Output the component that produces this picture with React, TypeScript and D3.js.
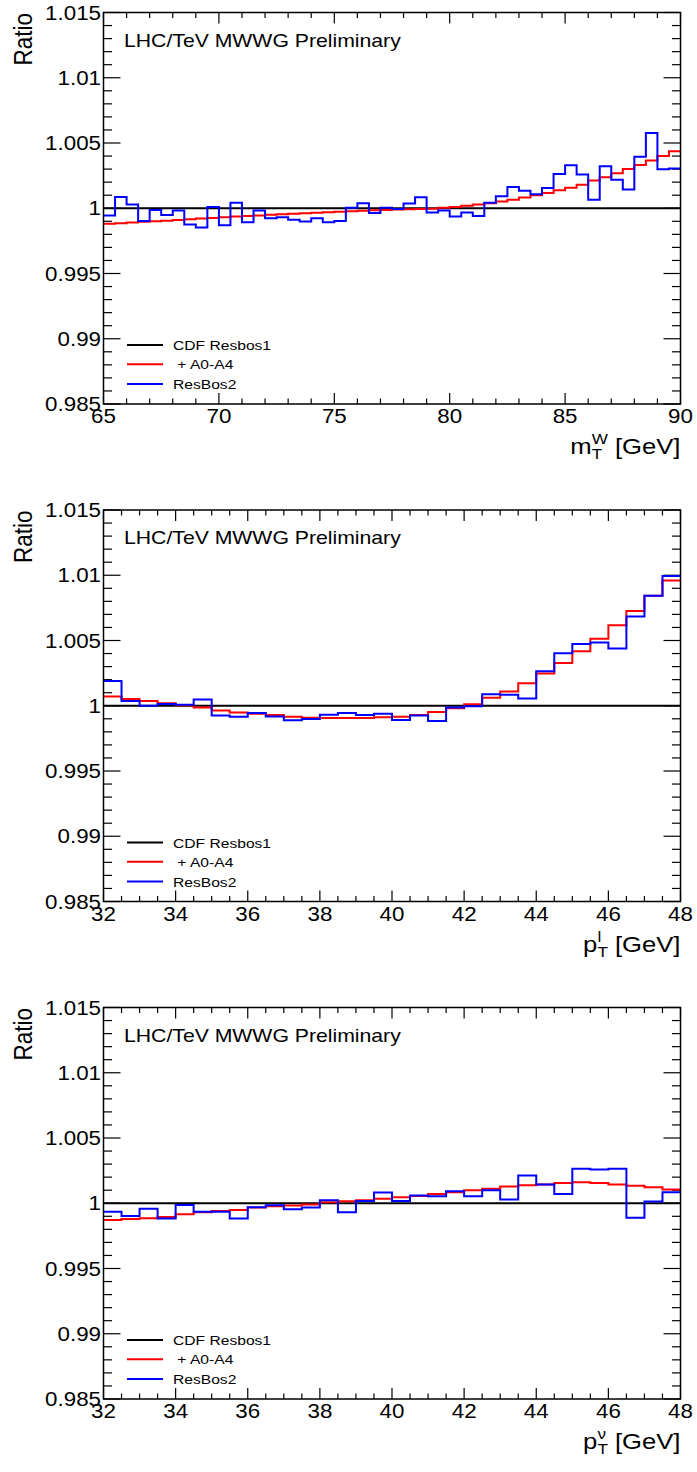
import React from "react";
import * as d3 from "d3";

// ---------- data ----------
const yTickValues = [0.985, 0.99, 0.995, 1, 1.005, 1.01, 1.015];
const yTickLabels = ["0.985", "0.99", "0.995", "1", "1.005", "1.01", "1.015"];

const mtRange = [65, 90];
const mtTicks = [65, 70, 75, 80, 85, 90];
const ptRange = [32, 48];
const ptTicks = [32, 34, 36, 38, 40, 42, 44, 46, 48];

const legendLabels = ["CDF Resbos1", "\u00A0+ A0-A4", "ResBos2"];
const plotLabel = "LHC/TeV MWWG Preliminary";
const yTitle = "Ratio";

// Panel 1: m_T^W, 50 bins of 0.5 GeV
const mtRed = [
  0.99882, 0.99886, 0.9989, 0.99896, 0.999, 0.99905, 0.9991, 0.99916, 0.99921, 0.99926,
  0.99931, 0.99936, 0.9994, 0.99945, 0.9995, 0.99954, 0.99958, 0.99962, 0.99966, 0.9997,
  0.99974, 0.99977, 0.9998, 0.99984, 0.99987, 0.9999, 0.99992, 0.99995, 0.99997, 1.00003,
  1.0001, 1.0002, 1.00028, 1.00038, 1.00051, 1.00066, 1.00082, 1.001, 1.00117, 1.00138,
  1.00158, 1.00181, 1.00212, 1.00237, 1.00268, 1.00301, 1.00332, 1.00365, 1.004, 1.00436,
];
const mtBlue = [
  0.99944, 1.00087, 1.00028, 0.99903, 0.99987, 0.99949, 0.99982, 0.99875, 0.99852, 1.0001,
  0.9987, 1.00043, 0.99893, 0.99982, 0.99923, 0.99931, 0.99911, 0.99898, 0.99923, 0.99893,
  0.99903, 1.00003, 1.00038, 0.99964, 1.00003, 0.99995, 1.00036, 1.00084, 0.99967, 0.99982,
  0.99936, 0.99967, 0.99941, 1.00043, 1.00092, 1.00163, 1.00135, 1.00107, 1.00156, 1.00263,
  1.00329, 1.00258, 1.00066, 1.00321, 1.00219, 1.00143, 1.00395, 1.00577, 1.00298, 1.00304,
];

// Panel 2: p_T^l, 32 bins of 0.5 GeV
const ptlRed = [
  1.0007, 1.00051, 1.00036, 1.0002, 1.00003, 0.99987, 0.99964, 0.99949, 0.99939, 0.99929,
  0.99916, 0.99908, 0.99906, 0.99906, 0.99906, 0.99911, 0.99916, 0.99929, 0.99952, 0.9998,
  1.00012, 1.00061, 1.0011, 1.00173, 1.00247, 1.00327, 1.00418, 1.00513, 1.00617, 1.00727,
  1.00842, 1.00959,
];
const ptlBlue = [
  1.00189, 1.00036, 1.0, 1.00013, 1.00008, 1.00048, 0.99926, 0.99916, 0.99944, 0.99918,
  0.99888, 0.99898, 0.99931, 0.99944, 0.99929, 0.99939, 0.9989, 0.99926, 0.99883, 0.99987,
  0.99997, 1.00089, 1.00084, 1.00056, 1.00265, 1.00403, 1.00474, 1.00485, 1.00439, 1.00684,
  1.00842, 1.00995,
];

// Panel 3: p_T^nu, 32 bins of 0.5 GeV
const ptnRed = [
  0.99872, 0.9988, 0.99885, 0.99895, 0.99916, 0.99931, 0.99941, 0.99949, 0.99967, 0.99977,
  0.99982, 0.9999, 1.00008, 1.00015, 1.00023, 1.00035, 1.00046, 1.00056, 1.00071, 1.00084,
  1.001, 1.00112, 1.00128, 1.00138, 1.00143, 1.00156, 1.00161, 1.00156, 1.00143, 1.00135,
  1.00122, 1.00105,
];
const ptnBlue = [
  0.99934, 0.99903, 0.99957, 0.99883, 0.99987, 0.99934, 0.99934, 0.99883, 0.99969, 0.99985,
  0.99954, 0.99967, 1.00023, 0.99931, 1.00018, 1.00083, 1.00018, 1.00059, 1.00054, 1.00092,
  1.00054, 1.001, 1.00028, 1.00212, 1.00143, 1.00071, 1.00265, 1.00258, 1.00265, 0.99888,
  1.00013, 1.00084,
];

// ---------- layout ----------
const W = 697;
const H = 1472;
const S = 1.14; // horizontal glyph stretch of the reference
const FONT = "'Liberation Sans', Arial, Helvetica, sans-serif";
const LEFT = 103.5;
const RIGHT = 680.5;
const TOP0 = 12.5;
const PH = 391.5;
const STEP = 497.5;

type PanelProps = {
  index: number;
  range: number[];
  ticks: number[];
  minorStep: number;
  red: number[];
  blue: number[];
  base: string;
  sup: string;
  supW: number; // em widths
  subW: number;
};

function Txt(props: {
  x: number;
  y: number;
  size: number;
  anchor?: string;
  rotate?: boolean;
  children: React.ReactNode;
}) {
  const { x, y, size, anchor = "start", rotate = false, children } = props;
  return (
    <text
      transform={`translate(${x},${y}) scale(${S},1)${rotate ? " rotate(-90)" : ""}`}
      fontFamily={FONT}
      fontSize={size}
      textAnchor={anchor}
      fill="#000"
    >
      {children}
    </text>
  );
}

function Panel(p: PanelProps) {
  const top = TOP0 + p.index * STEP;
  const bottom = top + PH;
  const x = d3.scaleLinear().domain(p.range).range([LEFT, RIGHT]);
  const y = d3.scaleLinear().domain([0.985, 1.015]).range([bottom, top]);

  const n = p.red.length;
  const bw = (p.range[1] - p.range[0]) / n;
  const stepPts = (vals: number[]) => {
    const pts: [number, number][] = vals.map((v, i) => [p.range[0] + i * bw, v]);
    pts.push([p.range[1], vals[vals.length - 1]]);
    return pts;
  };
  const line = d3
    .line<[number, number]>()
    .x((d) => x(d[0]))
    .y((d) => y(d[1]))
    .curve(d3.curveStepAfter);

  const xMinor = d3.range(p.range[0], p.range[1] + 1e-9, p.minorStep);
  const yMinor = d3.range(0.985, 1.015 + 1e-9, 0.001);

  const legY = [top + 332.5, top + 351.8, top + 371.5];
  const legColors = ["#000", "#ff0000", "#0000ff"];

  const titleY = bottom + 50;

  return (
    <g>
      {/* ticks */}
      {xMinor.map((t, i) => {
        const isMajor = p.ticks.some((m) => Math.abs(m - t) < 1e-6);
        const len = isMajor ? 11 : 5.5;
        return (
          <g key={"xt" + i} stroke="#000" strokeWidth={1.2}>
            <line x1={x(t)} x2={x(t)} y1={bottom} y2={bottom - len} />
            <line x1={x(t)} x2={x(t)} y1={top} y2={top + len} />
          </g>
        );
      })}
      {yMinor.map((t, i) => {
        const isMajor = yTickValues.some((m) => Math.abs(m - t) < 1e-7);
        const len = isMajor ? 17 : 8.5;
        return (
          <g key={"yt" + i} stroke="#000" strokeWidth={1.2}>
            <line x1={LEFT} x2={LEFT + len} y1={y(t)} y2={y(t)} />
            <line x1={RIGHT} x2={RIGHT - len} y1={y(t)} y2={y(t)} />
          </g>
        );
      })}

      {/* reference line (CDF Resbos1) */}
      <line x1={LEFT} x2={RIGHT} y1={y(1)} y2={y(1)} stroke="#000" strokeWidth={2} />
      <path d={line(stepPts(p.red)) || ""} fill="none" stroke="#ff0000" strokeWidth={2} />
      <path d={line(stepPts(p.blue)) || ""} fill="none" stroke="#0000ff" strokeWidth={2} />

      {/* frame */}
      <rect x={LEFT} y={top} width={RIGHT - LEFT} height={PH} fill="none" stroke="#000" strokeWidth={1.5} />

      {/* tick labels */}
      {yTickValues.map((t, i) => (
        <Txt key={"yl" + i} x={101} y={y(t) + 7} size={19.6} anchor="end">
          {yTickLabels[i]}
        </Txt>
      ))}
      {p.ticks.map((t, i) => (
        <Txt key={"xl" + i} x={x(t)} y={bottom + 19} size={19.6} anchor="middle">
          {String(t)}
        </Txt>
      ))}

      {/* y title */}
      <Txt x={32} y={top + 0.5} size={22.5} anchor="end" rotate>
        {yTitle}
      </Txt>

      {/* x title */}
      <text
        transform={`translate(${RIGHT},${titleY}) scale(${S},1)`}
        fontFamily={FONT}
        fontSize={22.5}
        textAnchor="end"
        fill="#000"
      >
        {p.base}
        <tspan fontSize={15} dy={-10}>
          {p.sup}
        </tspan>
        <tspan fontSize={15} dy={15} dx={-p.supW * 15}>
          T
        </tspan>
        <tspan fontSize={22.5} dy={-5} dx={Math.max(0, (p.supW - p.subW) * 15)}>
          {"\u00A0[GeV]"}
        </tspan>
      </text>

      {/* label */}
      <Txt x={124} y={top + 34} size={18.6}>
        {plotLabel}
      </Txt>

      {/* legend */}
      {legendLabels.map((l, i) => (
        <g key={"lg" + i}>
          <line x1={127} x2={163} y1={legY[i]} y2={legY[i]} stroke={legColors[i]} strokeWidth={2} />
          <Txt x={173} y={legY[i] + 5} size={13.7}>
            {l}
          </Txt>
        </g>
      ))}
    </g>
  );
}

export default function App() {
  return (
    <svg
      width={W}
      height={H}
      style={{ position: "absolute", left: 0, top: 0, background: "#fff" }}
    >
      <rect x={0} y={0} width={W} height={H} fill="#fff" />
      <Panel index={0} range={mtRange} ticks={mtTicks} minorStep={1} red={mtRed} blue={mtBlue}
        base="m" sup="W" supW={0.944} subW={0.611} />
      <Panel index={1} range={ptRange} ticks={ptTicks} minorStep={0.5} red={ptlRed} blue={ptlBlue}
        base="p" sup="l" supW={0.222} subW={0.611} />
      <Panel index={2} range={ptRange} ticks={ptTicks} minorStep={0.5} red={ptnRed} blue={ptnBlue}
        base="p" sup={"\u03BD"} supW={0.5} subW={0.611} />
    </svg>
  );
}
